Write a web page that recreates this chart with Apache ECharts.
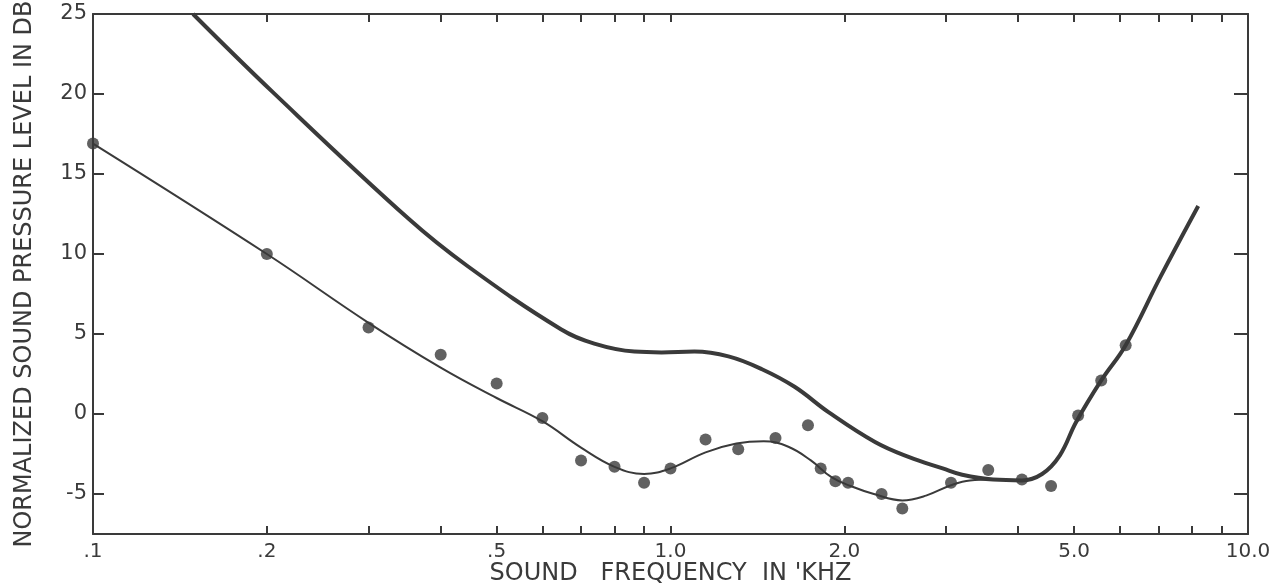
<!DOCTYPE html>
<html>
	<head>
		<title>Sound pressure level vs frequency</title>
		<meta http-equiv="content-type" content="text/html; charset=UTF-8">
		<script src="https://cdn.jsdelivr.net/npm/echarts@6/dist/echarts.min.js"></script>
		<style>
			html {height: 100%; width: 100%;}
			body {height: 100%; width: 100%; margin:0px; background:#fff;}
		</style>
		<script>
			// measured points, kHz / dB
			const pointFreq = [0.1, 0.2, 0.3, 0.4, 0.5, 0.6, 0.7, 0.8, 0.9, 1.0, 1.15, 1.31, 1.52, 1.73, 1.82, 1.93, 2.03, 2.32, 2.52, 3.06, 3.55, 4.06, 4.56, 5.08, 5.57, 6.14];
			const pointLevel = [16.9, 10.0, 5.4, 3.7, 1.9, -0.25, -2.9, -3.3, -4.3, -3.4, -1.6, -2.2, -1.5, -0.7, -3.4, -4.2, -4.3, -5.0, -5.9, -4.3, -3.5, -4.1, -4.5, -0.1, 2.1, 4.3];

			// thin fitted curve
			const fitFreq = [0.1, 0.2, 0.3, 0.4, 0.5, 0.6, 0.7, 0.8, 0.9, 1.0, 1.15, 1.3, 1.45, 1.6, 1.75, 1.9, 2.05, 2.25, 2.52, 2.77, 3.06, 3.3, 3.62];
			const fitLevel = [16.9, 10.0, 5.7, 2.9, 1.0, -0.45, -2.1, -3.3, -3.75, -3.4, -2.4, -1.85, -1.7, -2.05, -2.9, -3.95, -4.5, -5.0, -5.4, -5.1, -4.45, -4.15, -4.1];

			// thick threshold curve
			const thresholdFreq = [0.149, 0.205, 0.352, 0.445, 0.646, 0.738, 0.866, 0.965, 1.1, 1.26, 1.44, 1.64, 1.88, 2.26, 2.59, 2.96, 3.2, 3.62, 4.06, 4.4, 4.72, 5.04, 5.57, 6.14, 7.06, 8.2];
			const thresholdLevel = [25, 20.1, 12.2, 9.25, 5.3, 4.4, 3.9, 3.85, 3.9, 3.6, 2.8, 1.7, 0.1, -1.75, -2.7, -3.4, -3.8, -4.1, -4.15, -3.75, -2.6, -0.5, 2.1, 4.3, 8.6, 13.0];

			// axis ticks and labels
			const freqTicks = [0.2, 0.3, 0.4, 0.5, 0.6, 0.7, 0.8, 0.9, 1, 2, 3, 4, 5, 6, 7, 8, 9];
			const freqLabelValues = [0.1, 0.2, 0.5, 1, 2, 5, 10];
			const freqLabels = ['.1', '.2', '.5', '1.0', '2.0', '5.0', '10.0'];
			const levelTicks = [-5, 0, 5, 10, 15, 20, 25];

			const ink = '#3a3a3a';
			const font = 'DejaVu Sans';

			function zip(xs, ys) {
				return xs.map(function (x, i) { return [x, ys[i]]; });
			}

			function freqLabel(value) {
				const i = freqLabelValues.findIndex(function (v) { return Math.abs(v - value) < v * 1e-6; });
				return i < 0 ? '' : freqLabels[i];
			}

			function onload() {
				const chart = echarts.init(document.getElementById('container'), null, {renderer: 'canvas'});
				const frame = {show: true, onZero: false, lineStyle: {color: ink, width: 2}};
				const option = {
					animation: false,
					backgroundColor: '#fff',
					grid: {left: 93, right: 26, top: 14, bottom: 49, containLabel: false, outerBoundsMode: 'none'},
					xAxis: [
						{
							type: 'log', logBase: 10, min: 0.1, max: 10,
							position: 'bottom',
							name: "SOUND   FREQUENCY  IN 'KHZ",
							nameLocation: 'middle', nameGap: 28, nameMoveOverlap: false,
							nameTextStyle: {color: ink, fontFamily: font, fontSize: 24},
							axisLine: frame,
							axisTick: {inside: true, length: 8, customValues: freqTicks, lineStyle: {color: ink, width: 2}},
							axisLabel: {customValues: freqLabelValues, formatter: freqLabel, margin: 8, color: ink, fontFamily: font, fontSize: 20},
							splitLine: {show: false},
							minorTick: {show: false}
						},
						{
							type: 'log', logBase: 10, min: 0.1, max: 10,
							position: 'top',
							axisLine: frame,
							axisTick: {inside: true, length: 8, customValues: freqTicks, lineStyle: {color: ink, width: 2}},
							axisLabel: {show: false},
							splitLine: {show: false}
						}
					],
					yAxis: [
						{
							type: 'value', min: -7.5, max: 25,
							position: 'left',
							name: 'NORMALIZED SOUND PRESSURE LEVEL IN DB',
							nameLocation: 'middle', nameGap: 56, nameMoveOverlap: false,
							nameTextStyle: {color: ink, fontFamily: font, fontSize: 24},
							axisLine: frame,
							axisTick: {show: true, inside: true, length: 11, customValues: levelTicks, lineStyle: {color: ink, width: 2}},
							axisLabel: {customValues: levelTicks, margin: 6, color: ink, fontFamily: font, fontSize: 21},
							splitLine: {show: false}
						},
						{
							type: 'value', min: -7.5, max: 25,
							position: 'right',
							axisLine: frame,
							axisTick: {show: true, inside: true, length: 14, customValues: levelTicks, lineStyle: {color: ink, width: 2}},
							axisLabel: {show: false},
							splitLine: {show: false}
						}
					],
					series: [
						{
							name: 'threshold',
							type: 'line',
							data: zip(thresholdFreq, thresholdLevel),
							smooth: 0.4,
							showSymbol: false,
							lineStyle: {color: ink, width: 4},
							z: 3
						},
						{
							name: 'fit',
							type: 'line',
							data: zip(fitFreq, fitLevel),
							smooth: 0.4,
							showSymbol: false,
							lineStyle: {color: ink, width: 2},
							z: 3
						},
						{
							name: 'measured',
							type: 'scatter',
							data: zip(pointFreq, pointLevel),
							symbolSize: 12,
							itemStyle: {color: '#3a3a3a'},
							clip: false,
							z: 4
						}
					]
				};
				chart.setOption(option);
			}
		</script>
	</head>
	<body onload="onload()">
		<div id="container" style="width:1274px;height:583px;"></div>
	</body>
</html>
